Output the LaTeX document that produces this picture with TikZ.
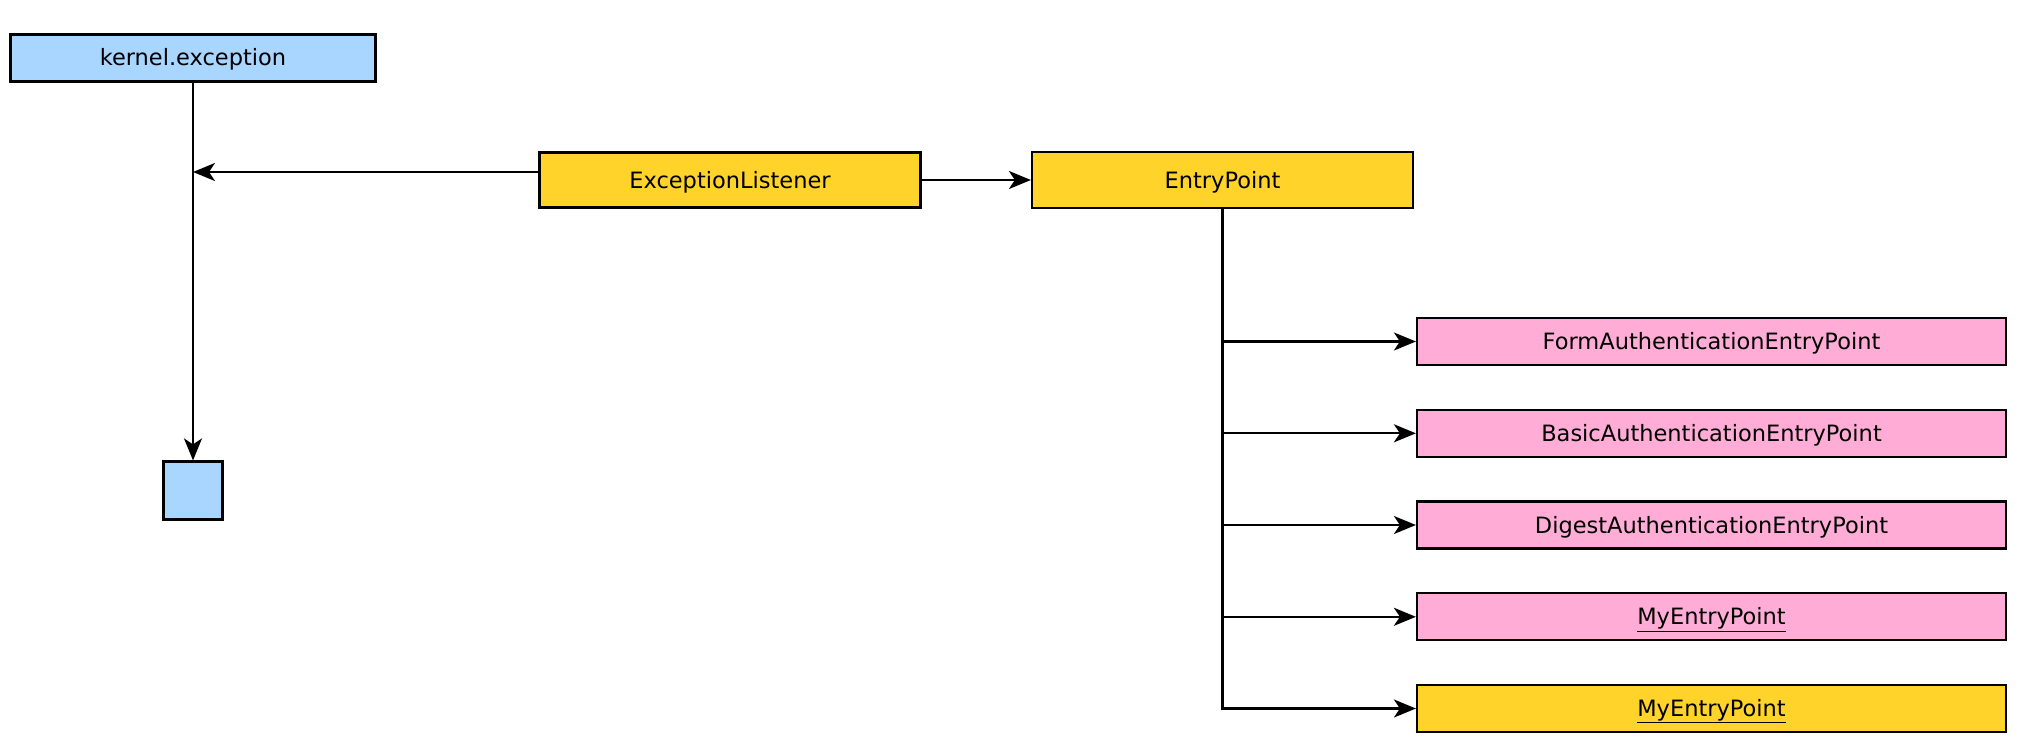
\documentclass[tikz,border=0pt]{standalone}
\usepackage{fontspec}
\setmainfont{DejaVu Sans}
\usetikzlibrary{arrows.meta,calc}
\definecolor{cblue}{HTML}{A8D6FF}
\definecolor{cyellow}{HTML}{FFD32A}
\definecolor{cpink}{HTML}{FFADD6}
\begin{document}
\begin{tikzpicture}[x=1pt,y=-1pt,
  box/.style={draw=black,line width=2.2pt,inner sep=0pt,align=center,
    text height=19pt,text depth=3pt,
    font=\fontsize{22.5}{26}\selectfont},
  bluebox/.style={box,fill=cblue},
  yellowbox/.style={box,fill=cyellow},
  pinkbox/.style={box,fill=cpink,minimum width=589pt,minimum height=47pt},
  conn/.style={line width=2.2pt},
  arr/.style={conn,-{Stealth[length=22pt,width=18pt,inset=6pt]}}]
\useasboundingbox (0,0) rectangle (2028,752);
\node[bluebox,minimum width=365pt,minimum height=47pt] (kex) at (193,58) {kernel.exception};
\node[bluebox,minimum width=59pt,minimum height=58pt] (small) at (193,490.5) {};
\node[yellowbox,minimum width=381pt,minimum height=55pt] (el) at (730,180) {ExceptionListener};
\node[yellowbox,minimum width=381pt,minimum height=56pt] (ep) at (1222.5,180) {EntryPoint};
\node[pinkbox] (fa) at (1711.5,341.5) {FormAuthenticationEntryPoint};
\node[pinkbox] (ba) at (1711.5,433.3) {BasicAuthenticationEntryPoint};
\node[pinkbox] (da) at (1711.5,525) {DigestAuthenticationEntryPoint};
\node[pinkbox] (my1) at (1711.5,616.8) {\underline{MyEntryPoint}};
\node[pinkbox,fill=cyellow] (my2) at (1711.5,708.5) {\underline{MyEntryPoint}};
\coordinate (elw) at ([yshift=8pt]el.west);
\coordinate (j1) at (kex.south |- elw);
\draw[arr] (kex.south) -- (small.north);
\draw[arr] (elw) -- (j1);
\draw[arr] (el.east) -- (ep.west);
\draw[arr] (ep.south) |- (my2.west);
\draw[arr] (ep.south |- fa.west) -- (fa.west);
\draw[arr] (ep.south |- ba.west) -- (ba.west);
\draw[arr] (ep.south |- da.west) -- (da.west);
\draw[arr] (ep.south |- my1.west) -- (my1.west);
\end{tikzpicture}
\end{document}
